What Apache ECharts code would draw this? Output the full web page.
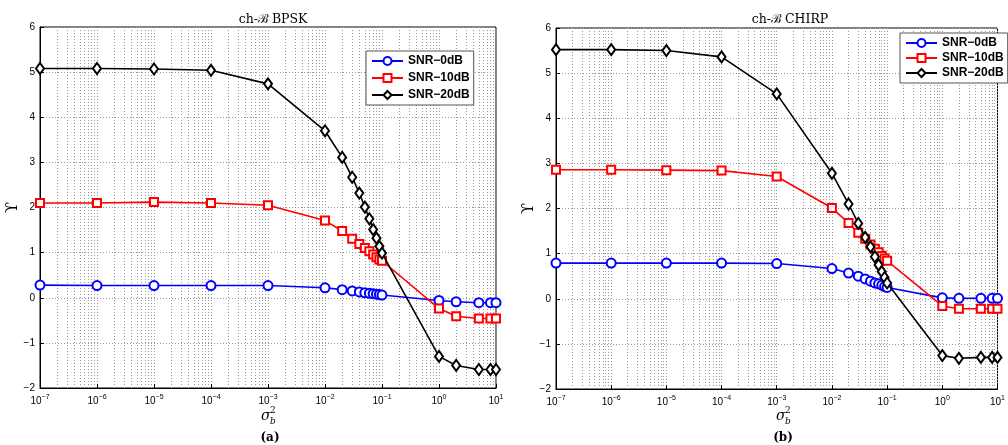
<!DOCTYPE html>
<html>
<head>
<meta charset="utf-8">
<script src="https://cdn.jsdelivr.net/npm/echarts@6/dist/echarts.min.js"></script>
<style>
html, body { margin: 0; padding: 0; background: #fff; }
#main { width: 1008px; height: 445px; }
</style>
</head>
<body>
<div id="main"></div>
<script>
// sigma_b^2 sample points (same for every curve)
var sigma2 = [1e-7, 1e-6, 1e-5, 1e-4, 1e-3, 0.01, 0.02, 0.03, 0.04, 0.05, 0.06, 0.07, 0.08, 0.09, 0.1, 1, 2, 5, 8, 10];

// (a) ch-B BPSK
var bpsk0  = [0.28, 0.27, 0.27, 0.27, 0.27, 0.22, 0.18, 0.15, 0.13, 0.11, 0.10, 0.09, 0.08, 0.07, 0.06, -0.06, -0.09, -0.11, -0.11, -0.11];
var bpsk10 = [2.10, 2.10, 2.12, 2.10, 2.05, 1.71, 1.48, 1.31, 1.19, 1.10, 1.03, 0.96, 0.90, 0.85, 0.82, -0.24, -0.41, -0.46, -0.46, -0.46];
var bpsk20 = [5.08, 5.08, 5.07, 5.04, 4.74, 3.70, 3.11, 2.67, 2.32, 2.01, 1.75, 1.51, 1.32, 1.14, 0.99, -1.30, -1.50, -1.59, -1.59, -1.59];

// (b) ch-B CHIRP
var chirp0  = [0.79, 0.79, 0.79, 0.79, 0.78, 0.67, 0.57, 0.50, 0.44, 0.39, 0.35, 0.33, 0.30, 0.27, 0.25, 0.02, 0.01, 0.01, 0.01, 0.01];
var chirp10 = [2.86, 2.86, 2.85, 2.84, 2.71, 2.01, 1.68, 1.46, 1.33, 1.20, 1.11, 1.03, 0.95, 0.89, 0.84, -0.16, -0.22, -0.22, -0.22, -0.22];
var chirp20 = [5.52, 5.52, 5.50, 5.36, 4.54, 2.78, 2.10, 1.67, 1.36, 1.15, 0.93, 0.75, 0.60, 0.47, 0.35, -1.26, -1.32, -1.30, -1.30, -1.30];

var names = ['SNR\u22120dB', 'SNR\u221210dB', 'SNR\u221220dB'];
var decades = [-7, -6, -5, -4, -3, -2, -1, 0];
var minorSteps = [2, 3, 4, 5, 6, 7, 8, 9];

// x axis is linear in log10(sigma_b^2)
var minorTicks = [];
decades.forEach(function (d) {
	minorSteps.forEach(function (k) { minorTicks.push({ xAxis: d + Math.log10(k) }); });
});

function pairs(ys) {
	return sigma2.map(function (x, i) { return [Math.log10(x), ys[i]]; });
}

var sansFont = '"Liberation Sans", Arial, sans-serif';
var serifFont = '"DejaVu Serif", "Liberation Serif", serif';
var gridColor = '#9a9a9a';

function xAxisFor(idx) {
	return {
		type: 'value',
		gridIndex: idx,
		min: -7,
		max: 1,
		interval: 1,
		axisLine: { onZero: false, lineStyle: { color: '#000', width: 1 } },
		axisTick: { inside: true, length: 4, lineStyle: { color: '#000' } },
		splitLine: { show: true, lineStyle: { color: gridColor, type: [1, 2], width: 1 } },
		axisLabel: {
			color: '#000',
			fontFamily: sansFont,
			fontSize: 10,
			margin: 6,
			formatter: function (v) {
				var e = Math.round(v);
				return '10{sup|' + (e < 0 ? '\u2212' + (-e) : e) + '}';
			},
			rich: {
				sup: { fontSize: 7, fontFamily: sansFont, color: '#000', verticalAlign: 'top', padding: [0, 0, 7, 0] }
			}
		}
	};
}

function yAxisFor(idx) {
	return {
		type: 'value',
		gridIndex: idx,
		min: -2,
		max: 6,
		interval: 1,
		name: '\u03d2',
		nameLocation: 'middle',
		nameRotate: 90,
		nameGap: 19,
		nameMoveOverlap: false,
		nameTextStyle: { fontFamily: serifFont, fontSize: 16, color: '#000' },
		axisLine: { show: true, onZero: false, lineStyle: { color: '#000', width: 1 } },
		axisTick: { show: true, inside: true, length: 4, lineStyle: { color: '#000' } },
		splitLine: { show: true, lineStyle: { color: gridColor, type: [1, 2], width: 1 } },
		axisLabel: {
			color: '#000',
			fontFamily: sansFont,
			fontSize: 10,
			margin: 5,
			formatter: function (v) { return String(v).replace('-', '\u2212'); }
		}
	};
}

var styles = [
	{ color: '#0000ff', symbol: 'emptyCircle', symbolSize: 9 },
	{ color: '#ff0000', symbol: 'emptyRect', symbolSize: 8 },
	{ color: '#000000', symbol: 'emptyDiamond', symbolSize: [8, 11] }
];

function curves(idx, sets) {
	var out = [];
	sets.forEach(function (ys, i) {
		var s = {
			name: names[i],
			type: 'line',
			xAxisIndex: idx,
			yAxisIndex: idx,
			data: pairs(ys),
			symbol: styles[i].symbol,
			symbolSize: styles[i].symbolSize,
			showAllSymbol: true,
			lineStyle: { color: styles[i].color, width: 1.6 },
			itemStyle: { color: styles[i].color, borderWidth: 1.6 },
			z: 3 + i
		};
		if (i === 0) {
			// minor log grid lines between decades
			s.markLine = {
				silent: true,
				z: 0,
				symbol: 'none',
				animation: false,
				label: { show: false },
				emphasis: { disabled: true },
				lineStyle: { color: gridColor, type: [1, 2], width: 1 },
				data: minorTicks
			};
		}
		out.push(s);
	});
	return out;
}

function legendFor(left, top, gap) {
	return {
		data: names,
		orient: 'vertical',
		left: left,
		top: top,
		itemWidth: 31,
		itemHeight: 10,
		itemGap: gap,
		padding: [4, 4, 4, 5],
		backgroundColor: '#fff',
		borderColor: '#555',
		borderWidth: 1,
		textStyle: { fontFamily: sansFont, fontWeight: 'bold', fontSize: 12, color: '#000' }
	};
}

function sigmaLabel(cx, y) {
	return {
		type: 'group',
		children: [
			{ type: 'text', left: cx - 7, top: y, style: { text: '\u03c3', font: 'italic 14px ' + serifFont, fill: '#000' } },
			{ type: 'text', left: cx + 2, top: y - 3, style: { text: '2', font: '9px ' + serifFont, fill: '#000' } },
			{ type: 'text', left: cx + 2, top: y + 8, style: { text: 'b', font: 'italic 9px ' + serifFont, fill: '#000' } }
		]
	};
}

var chart = echarts.init(document.getElementById('main'));
var option = {
	backgroundColor: '#fff',
	animation: false,
	title: [
		{ text: 'ch-\u212c BPSK', left: 268, top: 8, textAlign: 'center', textStyle: { fontFamily: serifFont, fontWeight: 'normal', fontSize: 12.5, color: '#000' } },
		{ text: 'ch-\u212c CHIRP', left: 785, top: 8, textAlign: 'center', textStyle: { fontFamily: serifFont, fontWeight: 'normal', fontSize: 12.5, color: '#000' } },
		{ text: '(a)', left: 270, top: 432, padding: 0, textAlign: 'center', textStyle: { fontFamily: serifFont, fontWeight: 'bold', fontSize: 12, color: '#000' } },
		{ text: '(b)', left: 783, top: 432, padding: 0, textAlign: 'center', textStyle: { fontFamily: serifFont, fontWeight: 'bold', fontSize: 12, color: '#000' } }
	],
	grid: [
		{ left: 40, top: 27, width: 456, height: 361, show: true, borderColor: '#000', borderWidth: 1, backgroundColor: 'transparent' },
		{ left: 556, top: 28, width: 455, height: 361, show: true, borderColor: '#000', borderWidth: 1, backgroundColor: 'transparent' }
	],
	legend: [legendFor(366, 51, 5), legendFor(900, 33, 3)],
	xAxis: [xAxisFor(0), xAxisFor(1)],
	yAxis: [yAxisFor(0), yAxisFor(1)],
	series: curves(0, [bpsk0, bpsk10, bpsk20]).concat(curves(1, [chirp0, chirp10, chirp20])),
	graphic: [sigmaLabel(268, 409), sigmaLabel(783, 409)]
};
chart.setOption(option);
</script>
</body>
</html>
